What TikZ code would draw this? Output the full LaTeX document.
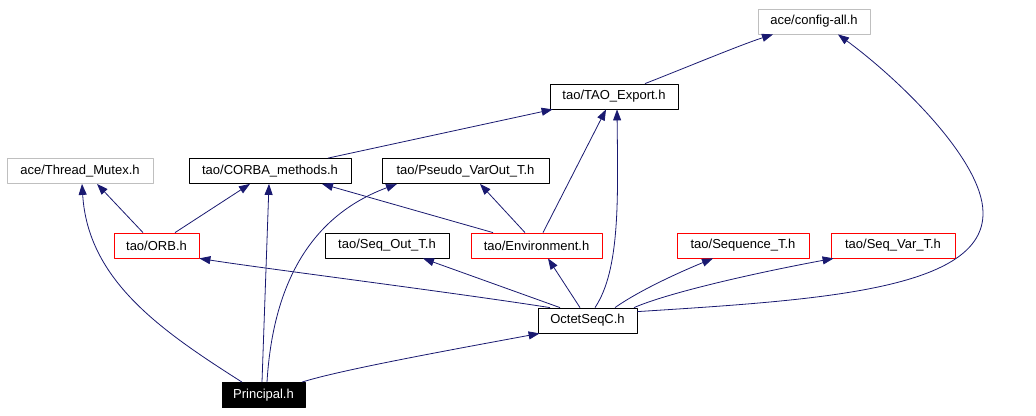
\documentclass[tikz,border=0pt]{standalone}
\usepackage{fontspec}
\setmainfont{Liberation Sans}
\usepackage{xcolor}
\usepackage{tikz}
\usetikzlibrary{arrows.meta}
\definecolor{edgeblue}{RGB}{25,25,112}
\definecolor{boxgray}{RGB}{191,191,191}

\begin{document}
\begin{tikzpicture}[x=1pt, y=-1pt, >={Triangle[length=11pt,width=8pt]}, line join=round,
  hfile/.style={draw=black, fill=white, line width=0.8pt, minimum height=25pt, inner sep=0pt,
    font=\fontsize{13}{15}\selectfont},
  sysfile/.style={hfile, draw=boxgray},
  tplfile/.style={hfile, draw=red},
  topfile/.style={hfile, fill=black, text=white},
  dep/.style={->, draw=edgeblue, line width=0.8pt}]
  \useasboundingbox (0,0) rectangle (1036,415);
  % headers
  \node[sysfile, minimum width=112pt] (cfg) at (814,21.5) {ace/config-all.h};
  \node[hfile, minimum width=128pt] (tao) at (614,96.5) {tao/TAO\_Export.h};
  \node[sysfile, minimum width=146pt] (mutex) at (80,171) {ace/Thread\_Mutex.h};
  \node[hfile, minimum width=162pt] (corba) at (270,171) {tao/CORBA\_methods.h};
  \node[hfile, minimum width=167pt] (pseudo) at (465.5,171) {tao/Pseudo\_VarOut\_T.h};
  \node[tplfile, minimum width=85pt] (orb) at (156.5,245.5) {tao/ORB.h};
  \node[hfile, minimum width=124pt] (seqout) at (387,245.5) {tao/Seq\_Out\_T.h};
  \node[tplfile, minimum width=131pt] (env) at (536.5,245.5) {tao/Environment.h};
  \node[tplfile, minimum width=132pt] (seqt) at (743,245.5) {tao/Sequence\_T.h};
  \node[tplfile, minimum width=124pt] (seqvar) at (893,245.5) {tao/Seq\_Var\_T.h};
  \node[hfile, minimum width=99pt] (oct) at (587.5,320.5) {OctetSeqC.h};
  \node[topfile, minimum width=83pt] (princ) at (263.5,395) {Principal.h};
  % includes
  \draw[dep] ([xshift=31pt]tao.north) .. controls (680,70) and (740,45) .. ([xshift=-41pt]cfg.south);
  \draw[dep] ([yshift=-4pt]oct.north east) .. controls (820,300) and (985,290) .. (983,212)
    .. controls (982,160) and (900,80) .. ([xshift=24pt]cfg.south);
  \draw[dep] ([xshift=58pt]corba.north) -- ([xshift=3pt]tao.south west);
  \draw[dep] ([xshift=6.5pt]env.north) -- ([xshift=-8pt]tao.south);
  \draw[dep] ([xshift=7.5pt]oct.north) .. controls (620,270) and (618,200) .. ([xshift=3pt]tao.south);
  \draw[dep] ([xshift=-13.5pt]orb.north) -- ([xshift=17pt]mutex.south);
  \draw[dep] ([xshift=-21.5pt]princ.north) .. controls (160,330) and (88,280) .. ([xshift=2pt]mutex.south);
  \draw[dep] ([xshift=18.5pt]orb.north) -- ([xshift=-20pt]corba.south);
  \draw[dep] ([xshift=-1.5pt]princ.north) -- ([xshift=-1pt]corba.south);
  \draw[dep] ([xshift=-43.5pt]env.north) -- ([xshift=52pt]corba.south);
  \draw[dep] ([xshift=3.5pt]princ.north) .. controls (272,300) and (300,220) .. ([xshift=-68.5pt]pseudo.south);
  \draw[dep] ([xshift=-11.5pt]env.north) -- ([xshift=14.5pt]pseudo.south);
  \draw[dep] ([xshift=-37.5pt]oct.north) .. controls (450,292) and (260,268) .. (orb.south east);
  \draw[dep] ([xshift=-27.5pt]oct.north) -- ([xshift=36pt]seqout.south);
  \draw[dep] ([xshift=-7.5pt]oct.north) -- ([xshift=11.5pt]env.south);
  \draw[dep] ([xshift=27.5pt]oct.north) .. controls (640,290) and (680,272) .. ([xshift=-30pt]seqt.south);
  \draw[dep] ([xshift=46.5pt]oct.north) .. controls (670,292) and (760,272) .. ([xshift=3pt]seqvar.south west);
  \draw[dep] ([xshift=38.5pt]princ.north) .. controls (340,370) and (450,350) .. ([xshift=2pt]oct.south west);
\end{tikzpicture}
\end{document}
